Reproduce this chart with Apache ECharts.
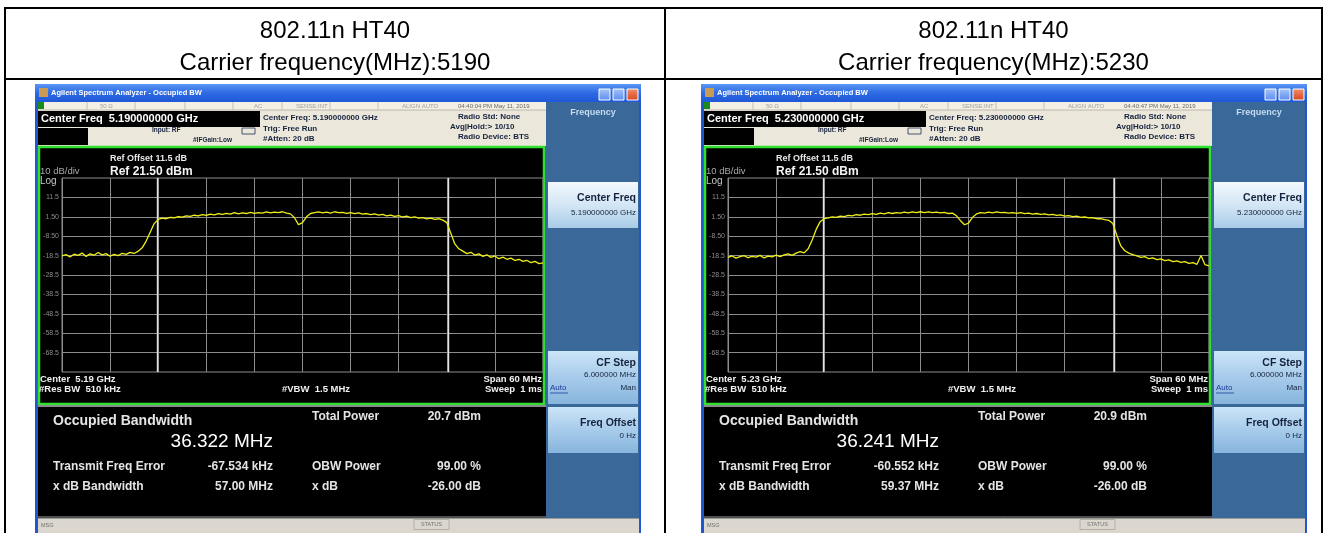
<!DOCTYPE html>
<html><head><meta charset="utf-8">
<script src="https://cdn.jsdelivr.net/npm/echarts@6/dist/echarts.min.js"></script>
<style>html,body{margin:0;padding:0;background:#fff}#c{width:1327px;height:533px}</style>
</head><body><div id="c"></div>
<script>
// ---------- data ----------
const headerLine1 = ['802.11n HT40', '802.11n HT40'];
const headerLine2 = ['Carrier frequency(MHz):5190', 'Carrier frequency(MHz):5230'];
const windowTitle = 'Agilent Spectrum Analyzer - Occupied BW';
const centerFreqGHz = ['5.190000000', '5.230000000'];
const centerShortGHz = ['5.19', '5.23'];
const timeStamps = ['04:40:04 PM May 11, 2019', '04:40:47 PM May 11, 2019'];
const spanMHz = 60;
const sweepStepMHz = 0.5;
const obwMHz = [36.322, 36.241];
const obwText = ['36.322 MHz', '36.241 MHz'];
const totalPower = ['20.7 dBm', '20.9 dBm'];
const freqError = ['-67.534 kHz', '-60.552 kHz'];
const xdBBandwidth = ['57.00 MHz', '59.37 MHz'];
const obwPower = '99.00 %';
const xdB = '-26.00 dB';
const yTickValues = [11.5, 1.5, -8.5, -18.5, -28.5, -38.5, -48.5, -58.5, -68.5];
const yTickLabels = ['11.5', '1.50', '-8.50', '-18.5', '-28.5', '-38.5', '-48.5', '-58.5', '-68.5'];

// trace values (dBm) at each sweep step
const traceA = [
 -18.6,-18.0,-19.2,-17.8,-18.4,-17.2,-18.9,-17.6,-18.3,-16.9,
 -18.1,-17.5,-18.8,-17.9,-18.5,-17.3,-17.9,-16.8,-17.4,-16.2,
 -14.5,-11.0,-6.5,-2.0,0.2,0.8,0.5,1.2,1.0,1.6,
 1.3,2.0,1.7,2.3,2.0,2.6,2.2,2.9,2.5,3.1,
 2.7,3.3,2.9,3.6,3.0,3.5,3.2,3.8,3.3,3.7,
 3.4,4.0,3.5,3.9,3.6,4.1,3.4,3.0,1.0,-2.5,
 -1.5,1.5,3.2,3.6,4.0,3.5,3.9,3.4,4.1,3.6,
 3.8,3.3,3.7,3.1,3.5,2.9,3.2,2.6,3.0,2.4,
 2.7,2.0,2.4,1.7,2.1,1.4,1.8,1.1,1.5,0.8,
 1.1,0.4,0.8,0.2,0.5,-0.2,-1.5,-7.0,-12.5,-15.0,
 -16.2,-17.5,-16.8,-18.2,-17.6,-18.9,-18.1,-19.4,-18.7,-20.1,
 -19.3,-20.4,-19.8,-21.0,-20.4,-21.5,-21.0,-22.1,-21.5,-22.6,
 -22.3
];
const traceB = [
 -19.4,-18.7,-19.8,-19.0,-18.5,-19.6,-18.9,-19.3,-18.4,-19.7,
 -18.8,-19.2,-18.3,-19.0,-18.1,-17.6,-18.4,-17.2,-16.5,-17.1,
 -15.0,-10.5,-5.0,-1.0,0.6,0.9,1.5,1.2,1.9,1.6,
 2.2,2.0,2.6,2.3,2.9,2.6,3.1,2.8,3.4,3.0,
 3.6,3.2,3.7,3.4,3.9,3.5,4.0,3.6,4.1,3.7,
 4.0,3.6,3.9,3.5,3.8,3.2,3.4,2.0,-0.5,-2.6,
 -1.8,1.2,3.0,3.7,3.4,3.9,3.5,4.0,3.6,3.8,
 3.4,3.7,3.3,3.6,3.1,3.4,2.9,3.2,2.7,3.0,
 2.5,2.8,2.2,2.5,1.9,2.1,1.6,1.8,1.2,1.4,
 0.9,1.0,0.5,0.6,0.1,-0.3,-2.0,-8.0,-13.5,-16.0,
 -17.2,-18.0,-18.6,-19.4,-19.0,-20.1,-19.7,-20.6,-20.2,-21.1,
 -20.7,-21.6,-21.2,-22.0,-21.6,-22.5,-22.1,-23.0,-18.5,-23.2,
 -23.8
];
const traces = [traceA, traceB];

// ---------- helpers ----------
const FONT = '"Liberation Sans", Arial, sans-serif';
const fnt = (s, b) => (b ? 'bold ' : '') + s + 'px ' + FONT;
function T(x, y, text, size, bold, fill, align, z) {
  return {type: 'text', z: z || 6, silent: true,
    style: {x: x, y: y, text: text, font: fnt(size, bold), fill: fill, textAlign: align || 'left', textVerticalAlign: 'middle'}};
}
function R(x, y, w, h, fill, stroke, lw, z) {
  return {type: 'rect', z: z || 1, silent: true, shape: {x: x, y: y, width: w, height: h},
    style: {fill: fill || 'none', stroke: stroke || null, lineWidth: lw || 0}};
}
function L(x1, y1, x2, y2, stroke, lw, z) {
  return {type: 'line', z: z || 2, silent: true, shape: {x1: x1, y1: y1, x2: x2, y2: y2}, style: {stroke: stroke, lineWidth: lw || 1}};
}
function grad(stops) {
  return {type: 'linear', x: 0, y: 0, x2: 0, y2: 1, colorStops: stops.map((c, i) => ({offset: i / (stops.length - 1), color: c}))};
}

const DX = [0, 666];
function shot(k) {
  const d = DX[k];
  const e = [];
  const navy = '#15223e';
  // window frame + title bar
  e.push(R(35 + d, 84, 606, 460, '#2256cf'));
  e.push(R(35 + d, 84, 606, 18, grad(['#5a96f4', '#2e6ae2', '#1f58d8'])));
  e.push(R(39 + d, 88, 9, 9, '#c99a52'));
  e.push(T(51 + d, 93, windowTitle, 7.5, true, '#ffffff'));
  e.push(R(599 + d, 89, 11, 11, grad(['#a8c4f8', '#5a8cf0']), '#ffffff', 1, 2));
  e.push(R(613 + d, 89, 11, 11, grad(['#a8c4f8', '#5a8cf0']), '#ffffff', 1, 2));
  e.push(R(627 + d, 89, 11, 11, grad(['#f09070', '#d8441c']), '#ffffff', 1, 2));
  // beige header
  e.push(R(38 + d, 102, 508, 44, '#ebe7da'));
  e.push(R(38 + d, 102, 508, 8, '#f3efe5'));
  e.push(L(38 + d, 110, 546 + d, 110, '#bdb8aa', 1));
  [87, 135, 185, 233, 282, 330, 378].forEach(x => e.push(L(x + d, 102, x + d, 110, '#c4c0b4', 1)));
  e.push(R(38 + d, 102, 6, 7, '#1a8a1a'));
  e.push(T(100 + d, 106, '50 \u03a9', 6, false, '#a0a0a0'));
  e.push(T(254 + d, 106, 'AC', 6, false, '#a0a0a0'));
  e.push(T(296 + d, 106, 'SENSE:INT', 6, false, '#a0a0a0'));
  e.push(T(402 + d, 106, 'ALIGN AUTO', 6, false, '#a0a0a0'));
  e.push(T(458 + d, 106, timeStamps[k], 6, false, '#6a6a6a'));
  e.push(R(38 + d, 111, 222, 16, '#000000'));
  e.push(T(41 + d, 119, 'Center Freq  ' + centerFreqGHz[k] + ' GHz', 11, true, '#ffffff'));
  e.push(R(38 + d, 128, 50, 17, '#000000'));
  e.push(T(152 + d, 130, 'Input: RF', 6.5, true, navy));
  e.push(T(193 + d, 140, '#IFGain:Low', 6.5, true, navy));
  e.push(R(242 + d, 128, 13, 6, 'none', '#44546e', 1, 2));
  e.push(T(263 + d, 118, 'Center Freq: ' + centerFreqGHz[k] + ' GHz', 8, true, navy));
  e.push(T(263 + d, 128.5, 'Trig: Free Run', 8, true, navy));
  e.push(T(263 + d, 138.5, '#Atten: 20 dB', 8, true, navy));
  e.push(T(450 + d, 127, 'Avg|Hold:> 10/10', 8, true, navy));
  e.push(T(458 + d, 117, 'Radio Std: None', 8, true, navy));
  e.push(T(458 + d, 137, 'Radio Device: BTS', 8, true, navy));
  // plot window
  e.push(R(39 + d, 147, 505, 257, '#000000', '#2fe02f', 2.5));
  e.push(T(110 + d, 158.5, 'Ref Offset 11.5 dB', 9, true, '#e8e8e8'));
  e.push(T(110 + d, 171.5, 'Ref 21.50 dBm', 12, true, '#f4f4f4'));
  e.push(T(40 + d, 171.5, '10 dB/div', 9.5, false, '#a8a8a8'));
  e.push(T(40 + d, 181.5, 'Log', 10, false, '#c4c4c4'));
  e.push(T(40 + d, 379.5, 'Center  ' + centerShortGHz[k] + ' GHz', 9.5, true, '#f0f0f0'));
  e.push(T(39 + d, 389.5, '#Res BW  510 kHz', 9.5, true, '#f0f0f0'));
  e.push(T(282 + d, 389.5, '#VBW  1.5 MHz', 9.5, true, '#f0f0f0'));
  e.push(T(542 + d, 379.5, 'Span 60 MHz', 9.5, true, '#f0f0f0', 'right'));
  e.push(T(542 + d, 389.5, 'Sweep  1 ms', 9.5, true, '#f0f0f0', 'right'));
  // result panel
  e.push(R(38 + d, 405, 508, 113, '#000000'));
  e.push(L(38 + d, 406, 546 + d, 406, '#8a8a8a', 2));
  e.push(L(38 + d, 517, 546 + d, 517, '#6a6a6a', 1.5));
  const wt = '#e4e4e4';
  e.push(T(53 + d, 421, 'Occupied Bandwidth', 14, true, wt));
  e.push(T(273 + d, 442, obwText[k], 19, false, '#ffffff', 'right'));
  e.push(T(53 + d, 467, 'Transmit Freq Error', 12, true, wt));
  e.push(T(273 + d, 467, freqError[k], 12, true, wt, 'right'));
  e.push(T(53 + d, 487, 'x dB Bandwidth', 12, true, wt));
  e.push(T(273 + d, 487, xdBBandwidth[k], 12, true, wt, 'right'));
  e.push(T(312 + d, 417, 'Total Power', 12, true, wt));
  e.push(T(481 + d, 417, totalPower[k], 12, true, wt, 'right'));
  e.push(T(312 + d, 467, 'OBW Power', 12, true, wt));
  e.push(T(481 + d, 467, obwPower, 12, true, wt, 'right'));
  e.push(T(312 + d, 487, 'x dB', 12, true, wt));
  e.push(T(481 + d, 487, xdB, 12, true, wt, 'right'));
  // status bar
  e.push(R(38 + d, 518, 601, 20, '#dbd7cf'));
  e.push(L(38 + d, 518.5, 639 + d, 518.5, '#9a9a9a', 1));
  e.push(T(41 + d, 525, 'MSG', 5.5, false, '#707070'));
  e.push(R(414 + d, 519.5, 35, 10, 'none', '#b4b0a8', 1, 2));
  e.push(T(421 + d, 524.5, 'STATUS', 5.5, false, '#707070'));
  // softkey panel
  e.push(R(546 + d, 102, 93, 416, '#3a6898'));
  e.push(T(593 + d, 113, 'Frequency', 9, true, '#c6dcf2', 'center'));
  e.push(R(548 + d, 182, 90, 46, grad(['#f2f8fd', '#d3e6f5', '#a9cbe7'])));
  e.push(T(636 + d, 198, 'Center Freq', 10.5, true, navy, 'right'));
  e.push(T(636 + d, 212.5, centerFreqGHz[k] + ' GHz', 8, false, navy, 'right'));
  e.push(R(548 + d, 351, 90, 53, grad(['#cbe4f7', '#a7cbea', '#87b5dd'])));
  e.push(T(636 + d, 363, 'CF Step', 10.5, true, navy, 'right'));
  e.push(T(636 + d, 375, '6.000000 MHz', 8, false, navy, 'right'));
  e.push(T(550 + d, 388, 'Auto', 8, false, '#1c3c9c'));
  e.push(L(550 + d, 393, 568 + d, 393, '#1c3c9c', 0.8, 6));
  e.push(T(636 + d, 388, 'Man', 8, false, navy, 'right'));
  e.push(R(548 + d, 407, 90, 46, grad(['#cbe4f7', '#a7cbea', '#87b5dd'])));
  e.push(T(636 + d, 423, 'Freq Offset', 10.5, true, navy, 'right'));
  e.push(T(636 + d, 436, '0 Hz', 8, false, navy, 'right'));
  return e;
}

// ---------- table ----------
const COLX = [5, 665, 1322];
const table = [
  L(COLX[0], 8, COLX[2], 8, '#000', 2, 8),
  L(COLX[0], 79, COLX[2], 79, '#000', 2, 8),
  L(COLX[0], 7, COLX[0], 533, '#000', 2, 8),
  L(COLX[1], 7, COLX[1], 533, '#000', 2, 8),
  L(COLX[2], 7, COLX[2], 533, '#000', 2, 8)
];
[0, 1].forEach(k => {
  const cx = (COLX[k] + COLX[k + 1]) / 2;
  table.push(T(cx, 31, headerLine1[k], 24, false, '#000', 'center'));
  table.push(T(cx, 63, headerLine2[k], 24, false, '#000', 'center'));
});

const offsetsMHz = traceA.map((_, i) => -spanMHz / 2 + i * sweepStepMHz);

function traceSeries(k) {
  return {
    type: 'line', xAxisIndex: k, yAxisIndex: k, z: 10, showSymbol: false, symbol: 'none', animation: false,
    lineStyle: {color: '#eeee18', width: 1.3},
    data: traces[k].map((v, i) => [offsetsMHz[i], v]),
    markLine: {
      silent: true, symbol: ['none', 'none'], animation: false,
      data: yTickValues.map((v, i) => ({
        yAxis: v, lineStyle: {color: '#8c8c8c', width: 1, type: 'solid'},
        label: {show: true, position: 'start', formatter: yTickLabels[i], color: '#8a8a8a', fontSize: 7, fontFamily: FONT, distance: 3}
      })).concat([-obwMHz[k] / 2, obwMHz[k] / 2].map(v => ({
        xAxis: v, lineStyle: {color: '#e4e4e4', width: 1.4, type: 'solid'}, label: {show: false}
      })))
    }
  };
}

const chart = echarts.init(document.getElementById('c'));
const gridBase = {top: 178, width: 481, height: 194, show: true, borderColor: '#8c8c8c', borderWidth: 1, backgroundColor: 'transparent', z: 3};
chart.setOption({
  animation: false,
  backgroundColor: '#ffffff',
  grid: [Object.assign({left: 62}, gridBase), Object.assign({left: 62 + DX[1]}, gridBase)],
  xAxis: [0, 1].map(k => ({
    gridIndex: k, type: 'value', min: -spanMHz / 2, max: spanMHz / 2, interval: 6, z: 4,
    axisLine: {show: false}, axisTick: {show: false}, axisLabel: {show: false},
    splitLine: {show: true, lineStyle: {color: '#8c8c8c', width: 1}}
  })),
  yAxis: [0, 1].map(k => ({
    gridIndex: k, type: 'value', min: -78.5, max: 21.5, z: 4,
    axisLine: {show: false}, axisTick: {show: false}, axisLabel: {show: false}, splitLine: {show: false}
  })),
  graphic: {elements: table.concat(shot(0), shot(1))},
  series: [traceSeries(0), traceSeries(1)]
});
</script>
</body></html>
